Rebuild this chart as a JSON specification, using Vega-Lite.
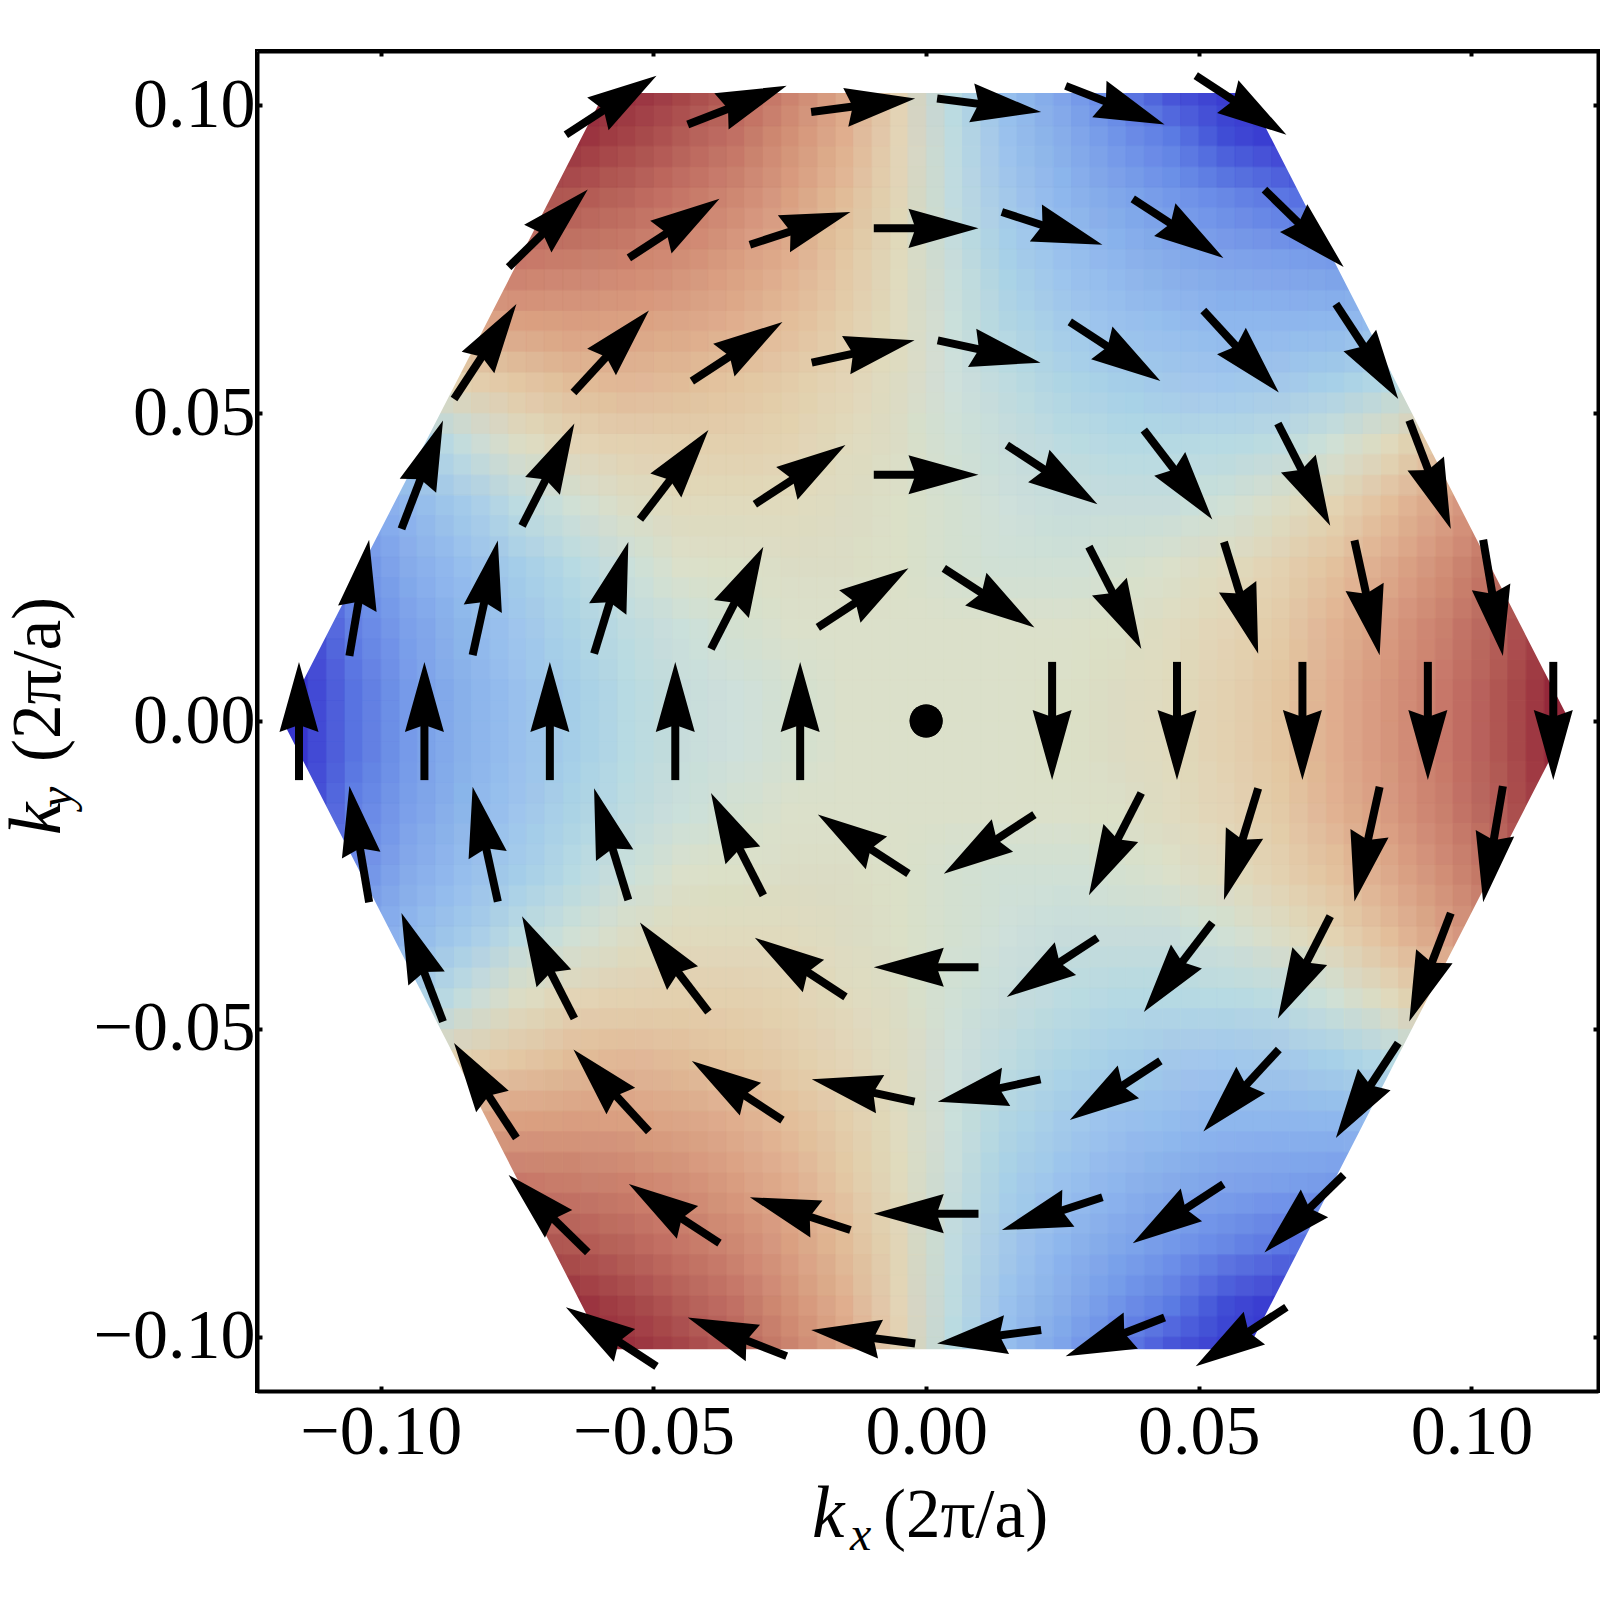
{"$schema":"https://vega.github.io/schema/vega-lite/v6.json","width":1341,"height":1340,"autosize":{"type":"none"},"padding":{"left":257,"top":51,"right":2,"bottom":209},"background":"white","view":{"stroke":"black","strokeWidth":4,"fill":"white"},
"datasets":{"cells":[
{"x":-0.065,"y":0.105,"v":100},{"x":-0.055,"y":0.105,"v":100},{"x":-0.045,"y":0.105,"v":87},{"x":-0.035,"y":0.105,"v":70},{"x":-0.025,"y":0.105,"v":51},{"x":-0.015,"y":0.105,"v":31},{"x":-0.005,"y":0.105,"v":10},{"x":0.005,"y":0.105,"v":-10},{"x":0.015,"y":0.105,"v":-31},{"x":0.025,"y":0.105,"v":-51},{"x":0.035,"y":0.105,"v":-70},{"x":0.045,"y":0.105,"v":-87},{"x":0.055,"y":0.105,"v":-100},{"x":0.065,"y":0.105,"v":-100},
{"x":-0.075,"y":0.095,"v":100},{"x":-0.065,"y":0.095,"v":93},{"x":-0.055,"y":0.095,"v":83},{"x":-0.045,"y":0.095,"v":70},{"x":-0.035,"y":0.095,"v":57},{"x":-0.025,"y":0.095,"v":41},{"x":-0.015,"y":0.095,"v":25},{"x":-0.005,"y":0.095,"v":8},{"x":0.005,"y":0.095,"v":-8},{"x":0.015,"y":0.095,"v":-25},{"x":0.025,"y":0.095,"v":-41},{"x":0.035,"y":0.095,"v":-57},{"x":0.045,"y":0.095,"v":-70},{"x":0.055,"y":0.095,"v":-83},{"x":0.065,"y":0.095,"v":-93},{"x":0.075,"y":0.095,"v":-100},
{"x":-0.075,"y":0.085,"v":75},{"x":-0.065,"y":0.085,"v":71},{"x":-0.055,"y":0.085,"v":64},{"x":-0.045,"y":0.085,"v":55},{"x":-0.035,"y":0.085,"v":45},{"x":-0.025,"y":0.085,"v":33},{"x":-0.015,"y":0.085,"v":20},{"x":-0.005,"y":0.085,"v":7},{"x":0.005,"y":0.085,"v":-7},{"x":0.015,"y":0.085,"v":-20},{"x":0.025,"y":0.085,"v":-33},{"x":0.035,"y":0.085,"v":-45},{"x":0.045,"y":0.085,"v":-55},{"x":0.055,"y":0.085,"v":-64},{"x":0.065,"y":0.085,"v":-71},{"x":0.075,"y":0.085,"v":-75},
{"x":-0.085,"y":0.075,"v":51},{"x":-0.075,"y":0.075,"v":53},{"x":-0.065,"y":0.075,"v":51},{"x":-0.055,"y":0.075,"v":48},{"x":-0.045,"y":0.075,"v":42},{"x":-0.035,"y":0.075,"v":34},{"x":-0.025,"y":0.075,"v":25},{"x":-0.015,"y":0.075,"v":16},{"x":-0.005,"y":0.075,"v":5},{"x":0.005,"y":0.075,"v":-5},{"x":0.015,"y":0.075,"v":-16},{"x":0.025,"y":0.075,"v":-25},{"x":0.035,"y":0.075,"v":-34},{"x":0.045,"y":0.075,"v":-42},{"x":0.055,"y":0.075,"v":-48},{"x":0.065,"y":0.075,"v":-51},{"x":0.075,"y":0.075,"v":-53},{"x":0.085,"y":0.075,"v":-51},
{"x":-0.085,"y":0.065,"v":29},{"x":-0.075,"y":0.065,"v":33},{"x":-0.065,"y":0.065,"v":34},{"x":-0.055,"y":0.065,"v":33},{"x":-0.045,"y":0.065,"v":30},{"x":-0.035,"y":0.065,"v":25},{"x":-0.025,"y":0.065,"v":19},{"x":-0.015,"y":0.065,"v":12},{"x":-0.005,"y":0.065,"v":4},{"x":0.005,"y":0.065,"v":-4},{"x":0.015,"y":0.065,"v":-12},{"x":0.025,"y":0.065,"v":-19},{"x":0.035,"y":0.065,"v":-25},{"x":0.045,"y":0.065,"v":-30},{"x":0.055,"y":0.065,"v":-33},{"x":0.065,"y":0.065,"v":-34},{"x":0.075,"y":0.065,"v":-33},{"x":0.085,"y":0.065,"v":-29},
{"x":-0.095,"y":0.055,"v":0},{"x":-0.085,"y":0.055,"v":10},{"x":-0.075,"y":0.055,"v":16},{"x":-0.065,"y":0.055,"v":20},{"x":-0.055,"y":0.055,"v":21},{"x":-0.045,"y":0.055,"v":20},{"x":-0.035,"y":0.055,"v":17},{"x":-0.025,"y":0.055,"v":13},{"x":-0.015,"y":0.055,"v":8},{"x":-0.005,"y":0.055,"v":3},{"x":0.005,"y":0.055,"v":-3},{"x":0.015,"y":0.055,"v":-8},{"x":0.025,"y":0.055,"v":-13},{"x":0.035,"y":0.055,"v":-17},{"x":0.045,"y":0.055,"v":-20},{"x":0.055,"y":0.055,"v":-21},{"x":0.065,"y":0.055,"v":-20},{"x":0.075,"y":0.055,"v":-16},{"x":0.085,"y":0.055,"v":-10},{"x":0.095,"y":0.055,"v":0},
{"x":-0.105,"y":0.045,"v":-33},{"x":-0.095,"y":0.045,"v":-18},{"x":-0.085,"y":0.045,"v":-6},{"x":-0.075,"y":0.045,"v":2},{"x":-0.065,"y":0.045,"v":8},{"x":-0.055,"y":0.045,"v":10},{"x":-0.045,"y":0.045,"v":11},{"x":-0.035,"y":0.045,"v":11},{"x":-0.025,"y":0.045,"v":9},{"x":-0.015,"y":0.045,"v":5},{"x":-0.005,"y":0.045,"v":2},{"x":0.005,"y":0.045,"v":-2},{"x":0.015,"y":0.045,"v":-5},{"x":0.025,"y":0.045,"v":-9},{"x":0.035,"y":0.045,"v":-11},{"x":0.045,"y":0.045,"v":-11},{"x":0.055,"y":0.045,"v":-10},{"x":0.065,"y":0.045,"v":-8},{"x":0.075,"y":0.045,"v":-2},{"x":0.085,"y":0.045,"v":6},{"x":0.095,"y":0.045,"v":18},{"x":0.105,"y":0.045,"v":33},
{"x":-0.105,"y":0.035,"v":-48},{"x":-0.095,"y":0.035,"v":-32},{"x":-0.085,"y":0.035,"v":-19},{"x":-0.075,"y":0.035,"v":-9},{"x":-0.065,"y":0.035,"v":-2},{"x":-0.055,"y":0.035,"v":2},{"x":-0.045,"y":0.035,"v":5},{"x":-0.035,"y":0.035,"v":5},{"x":-0.025,"y":0.035,"v":5},{"x":-0.015,"y":0.035,"v":3},{"x":-0.005,"y":0.035,"v":1},{"x":0.005,"y":0.035,"v":-1},{"x":0.015,"y":0.035,"v":-3},{"x":0.025,"y":0.035,"v":-5},{"x":0.035,"y":0.035,"v":-5},{"x":0.045,"y":0.035,"v":-5},{"x":0.055,"y":0.035,"v":-2},{"x":0.065,"y":0.035,"v":2},{"x":0.075,"y":0.035,"v":9},{"x":0.085,"y":0.035,"v":19},{"x":0.095,"y":0.035,"v":32},{"x":0.105,"y":0.035,"v":48},
{"x":-0.115,"y":0.025,"v":-82},{"x":-0.105,"y":0.025,"v":-60},{"x":-0.095,"y":0.025,"v":-42},{"x":-0.085,"y":0.025,"v":-28},{"x":-0.075,"y":0.025,"v":-18},{"x":-0.065,"y":0.025,"v":-10},{"x":-0.055,"y":0.025,"v":-4},{"x":-0.045,"y":0.025,"v":0},{"x":-0.035,"y":0.025,"v":1},{"x":-0.025,"y":0.025,"v":2},{"x":-0.015,"y":0.025,"v":2},{"x":-0.005,"y":0.025,"v":1},{"x":0.005,"y":0.025,"v":-1},{"x":0.015,"y":0.025,"v":-2},{"x":0.025,"y":0.025,"v":-2},{"x":0.035,"y":0.025,"v":-1},{"x":0.045,"y":0.025,"v":0},{"x":0.055,"y":0.025,"v":4},{"x":0.065,"y":0.025,"v":10},{"x":0.075,"y":0.025,"v":18},{"x":0.085,"y":0.025,"v":28},{"x":0.095,"y":0.025,"v":42},{"x":0.105,"y":0.025,"v":60},{"x":0.115,"y":0.025,"v":82},
{"x":-0.115,"y":0.015,"v":-90},{"x":-0.105,"y":0.015,"v":-68},{"x":-0.095,"y":0.015,"v":-50},{"x":-0.085,"y":0.015,"v":-35},{"x":-0.075,"y":0.015,"v":-23},{"x":-0.065,"y":0.015,"v":-14},{"x":-0.055,"y":0.015,"v":-8},{"x":-0.045,"y":0.015,"v":-4},{"x":-0.035,"y":0.015,"v":-1},{"x":-0.025,"y":0.015,"v":0},{"x":-0.015,"y":0.015,"v":0},{"x":-0.005,"y":0.015,"v":0},{"x":0.005,"y":0.015,"v":0},{"x":0.015,"y":0.015,"v":0},{"x":0.025,"y":0.015,"v":0},{"x":0.035,"y":0.015,"v":1},{"x":0.045,"y":0.015,"v":4},{"x":0.055,"y":0.015,"v":8},{"x":0.065,"y":0.015,"v":14},{"x":0.075,"y":0.015,"v":23},{"x":0.085,"y":0.015,"v":35},{"x":0.095,"y":0.015,"v":50},{"x":0.105,"y":0.015,"v":68},{"x":0.115,"y":0.015,"v":90},
{"x":-0.125,"y":0.005,"v":-100},{"x":-0.115,"y":0.005,"v":-95},{"x":-0.105,"y":0.005,"v":-72},{"x":-0.095,"y":0.005,"v":-53},{"x":-0.085,"y":0.005,"v":-38},{"x":-0.075,"y":0.005,"v":-26},{"x":-0.065,"y":0.005,"v":-17},{"x":-0.055,"y":0.005,"v":-10},{"x":-0.045,"y":0.005,"v":-5},{"x":-0.035,"y":0.005,"v":-3},{"x":-0.025,"y":0.005,"v":-1},{"x":-0.015,"y":0.005,"v":0},{"x":-0.005,"y":0.005,"v":0},{"x":0.005,"y":0.005,"v":0},{"x":0.015,"y":0.005,"v":0},{"x":0.025,"y":0.005,"v":1},{"x":0.035,"y":0.005,"v":3},{"x":0.045,"y":0.005,"v":5},{"x":0.055,"y":0.005,"v":10},{"x":0.065,"y":0.005,"v":17},{"x":0.075,"y":0.005,"v":26},{"x":0.085,"y":0.005,"v":38},{"x":0.095,"y":0.005,"v":53},{"x":0.105,"y":0.005,"v":72},{"x":0.115,"y":0.005,"v":95},{"x":0.125,"y":0.005,"v":100},
{"x":-0.125,"y":-0.005,"v":-100},{"x":-0.115,"y":-0.005,"v":-95},{"x":-0.105,"y":-0.005,"v":-72},{"x":-0.095,"y":-0.005,"v":-53},{"x":-0.085,"y":-0.005,"v":-38},{"x":-0.075,"y":-0.005,"v":-26},{"x":-0.065,"y":-0.005,"v":-17},{"x":-0.055,"y":-0.005,"v":-10},{"x":-0.045,"y":-0.005,"v":-5},{"x":-0.035,"y":-0.005,"v":-3},{"x":-0.025,"y":-0.005,"v":-1},{"x":-0.015,"y":-0.005,"v":0},{"x":-0.005,"y":-0.005,"v":0},{"x":0.005,"y":-0.005,"v":0},{"x":0.015,"y":-0.005,"v":0},{"x":0.025,"y":-0.005,"v":1},{"x":0.035,"y":-0.005,"v":3},{"x":0.045,"y":-0.005,"v":5},{"x":0.055,"y":-0.005,"v":10},{"x":0.065,"y":-0.005,"v":17},{"x":0.075,"y":-0.005,"v":26},{"x":0.085,"y":-0.005,"v":38},{"x":0.095,"y":-0.005,"v":53},{"x":0.105,"y":-0.005,"v":72},{"x":0.115,"y":-0.005,"v":95},{"x":0.125,"y":-0.005,"v":100},
{"x":-0.115,"y":-0.015,"v":-90},{"x":-0.105,"y":-0.015,"v":-68},{"x":-0.095,"y":-0.015,"v":-50},{"x":-0.085,"y":-0.015,"v":-35},{"x":-0.075,"y":-0.015,"v":-23},{"x":-0.065,"y":-0.015,"v":-14},{"x":-0.055,"y":-0.015,"v":-8},{"x":-0.045,"y":-0.015,"v":-4},{"x":-0.035,"y":-0.015,"v":-1},{"x":-0.025,"y":-0.015,"v":0},{"x":-0.015,"y":-0.015,"v":0},{"x":-0.005,"y":-0.015,"v":0},{"x":0.005,"y":-0.015,"v":0},{"x":0.015,"y":-0.015,"v":0},{"x":0.025,"y":-0.015,"v":0},{"x":0.035,"y":-0.015,"v":1},{"x":0.045,"y":-0.015,"v":4},{"x":0.055,"y":-0.015,"v":8},{"x":0.065,"y":-0.015,"v":14},{"x":0.075,"y":-0.015,"v":23},{"x":0.085,"y":-0.015,"v":35},{"x":0.095,"y":-0.015,"v":50},{"x":0.105,"y":-0.015,"v":68},{"x":0.115,"y":-0.015,"v":90},
{"x":-0.115,"y":-0.025,"v":-82},{"x":-0.105,"y":-0.025,"v":-60},{"x":-0.095,"y":-0.025,"v":-42},{"x":-0.085,"y":-0.025,"v":-28},{"x":-0.075,"y":-0.025,"v":-18},{"x":-0.065,"y":-0.025,"v":-10},{"x":-0.055,"y":-0.025,"v":-4},{"x":-0.045,"y":-0.025,"v":0},{"x":-0.035,"y":-0.025,"v":1},{"x":-0.025,"y":-0.025,"v":2},{"x":-0.015,"y":-0.025,"v":2},{"x":-0.005,"y":-0.025,"v":1},{"x":0.005,"y":-0.025,"v":-1},{"x":0.015,"y":-0.025,"v":-2},{"x":0.025,"y":-0.025,"v":-2},{"x":0.035,"y":-0.025,"v":-1},{"x":0.045,"y":-0.025,"v":0},{"x":0.055,"y":-0.025,"v":4},{"x":0.065,"y":-0.025,"v":10},{"x":0.075,"y":-0.025,"v":18},{"x":0.085,"y":-0.025,"v":28},{"x":0.095,"y":-0.025,"v":42},{"x":0.105,"y":-0.025,"v":60},{"x":0.115,"y":-0.025,"v":82},
{"x":-0.105,"y":-0.035,"v":-48},{"x":-0.095,"y":-0.035,"v":-32},{"x":-0.085,"y":-0.035,"v":-19},{"x":-0.075,"y":-0.035,"v":-9},{"x":-0.065,"y":-0.035,"v":-2},{"x":-0.055,"y":-0.035,"v":2},{"x":-0.045,"y":-0.035,"v":5},{"x":-0.035,"y":-0.035,"v":5},{"x":-0.025,"y":-0.035,"v":5},{"x":-0.015,"y":-0.035,"v":3},{"x":-0.005,"y":-0.035,"v":1},{"x":0.005,"y":-0.035,"v":-1},{"x":0.015,"y":-0.035,"v":-3},{"x":0.025,"y":-0.035,"v":-5},{"x":0.035,"y":-0.035,"v":-5},{"x":0.045,"y":-0.035,"v":-5},{"x":0.055,"y":-0.035,"v":-2},{"x":0.065,"y":-0.035,"v":2},{"x":0.075,"y":-0.035,"v":9},{"x":0.085,"y":-0.035,"v":19},{"x":0.095,"y":-0.035,"v":32},{"x":0.105,"y":-0.035,"v":48},
{"x":-0.105,"y":-0.045,"v":-33},{"x":-0.095,"y":-0.045,"v":-18},{"x":-0.085,"y":-0.045,"v":-6},{"x":-0.075,"y":-0.045,"v":2},{"x":-0.065,"y":-0.045,"v":8},{"x":-0.055,"y":-0.045,"v":10},{"x":-0.045,"y":-0.045,"v":11},{"x":-0.035,"y":-0.045,"v":11},{"x":-0.025,"y":-0.045,"v":9},{"x":-0.015,"y":-0.045,"v":5},{"x":-0.005,"y":-0.045,"v":2},{"x":0.005,"y":-0.045,"v":-2},{"x":0.015,"y":-0.045,"v":-5},{"x":0.025,"y":-0.045,"v":-9},{"x":0.035,"y":-0.045,"v":-11},{"x":0.045,"y":-0.045,"v":-11},{"x":0.055,"y":-0.045,"v":-10},{"x":0.065,"y":-0.045,"v":-8},{"x":0.075,"y":-0.045,"v":-2},{"x":0.085,"y":-0.045,"v":6},{"x":0.095,"y":-0.045,"v":18},{"x":0.105,"y":-0.045,"v":33},
{"x":-0.095,"y":-0.055,"v":0},{"x":-0.085,"y":-0.055,"v":10},{"x":-0.075,"y":-0.055,"v":16},{"x":-0.065,"y":-0.055,"v":20},{"x":-0.055,"y":-0.055,"v":21},{"x":-0.045,"y":-0.055,"v":20},{"x":-0.035,"y":-0.055,"v":17},{"x":-0.025,"y":-0.055,"v":13},{"x":-0.015,"y":-0.055,"v":8},{"x":-0.005,"y":-0.055,"v":3},{"x":0.005,"y":-0.055,"v":-3},{"x":0.015,"y":-0.055,"v":-8},{"x":0.025,"y":-0.055,"v":-13},{"x":0.035,"y":-0.055,"v":-17},{"x":0.045,"y":-0.055,"v":-20},{"x":0.055,"y":-0.055,"v":-21},{"x":0.065,"y":-0.055,"v":-20},{"x":0.075,"y":-0.055,"v":-16},{"x":0.085,"y":-0.055,"v":-10},{"x":0.095,"y":-0.055,"v":0},
{"x":-0.085,"y":-0.065,"v":29},{"x":-0.075,"y":-0.065,"v":33},{"x":-0.065,"y":-0.065,"v":34},{"x":-0.055,"y":-0.065,"v":33},{"x":-0.045,"y":-0.065,"v":30},{"x":-0.035,"y":-0.065,"v":25},{"x":-0.025,"y":-0.065,"v":19},{"x":-0.015,"y":-0.065,"v":12},{"x":-0.005,"y":-0.065,"v":4},{"x":0.005,"y":-0.065,"v":-4},{"x":0.015,"y":-0.065,"v":-12},{"x":0.025,"y":-0.065,"v":-19},{"x":0.035,"y":-0.065,"v":-25},{"x":0.045,"y":-0.065,"v":-30},{"x":0.055,"y":-0.065,"v":-33},{"x":0.065,"y":-0.065,"v":-34},{"x":0.075,"y":-0.065,"v":-33},{"x":0.085,"y":-0.065,"v":-29},
{"x":-0.085,"y":-0.075,"v":51},{"x":-0.075,"y":-0.075,"v":53},{"x":-0.065,"y":-0.075,"v":51},{"x":-0.055,"y":-0.075,"v":48},{"x":-0.045,"y":-0.075,"v":42},{"x":-0.035,"y":-0.075,"v":34},{"x":-0.025,"y":-0.075,"v":25},{"x":-0.015,"y":-0.075,"v":16},{"x":-0.005,"y":-0.075,"v":5},{"x":0.005,"y":-0.075,"v":-5},{"x":0.015,"y":-0.075,"v":-16},{"x":0.025,"y":-0.075,"v":-25},{"x":0.035,"y":-0.075,"v":-34},{"x":0.045,"y":-0.075,"v":-42},{"x":0.055,"y":-0.075,"v":-48},{"x":0.065,"y":-0.075,"v":-51},{"x":0.075,"y":-0.075,"v":-53},{"x":0.085,"y":-0.075,"v":-51},
{"x":-0.075,"y":-0.085,"v":75},{"x":-0.065,"y":-0.085,"v":71},{"x":-0.055,"y":-0.085,"v":64},{"x":-0.045,"y":-0.085,"v":55},{"x":-0.035,"y":-0.085,"v":45},{"x":-0.025,"y":-0.085,"v":33},{"x":-0.015,"y":-0.085,"v":20},{"x":-0.005,"y":-0.085,"v":7},{"x":0.005,"y":-0.085,"v":-7},{"x":0.015,"y":-0.085,"v":-20},{"x":0.025,"y":-0.085,"v":-33},{"x":0.035,"y":-0.085,"v":-45},{"x":0.045,"y":-0.085,"v":-55},{"x":0.055,"y":-0.085,"v":-64},{"x":0.065,"y":-0.085,"v":-71},{"x":0.075,"y":-0.085,"v":-75},
{"x":-0.075,"y":-0.095,"v":100},{"x":-0.065,"y":-0.095,"v":93},{"x":-0.055,"y":-0.095,"v":83},{"x":-0.045,"y":-0.095,"v":70},{"x":-0.035,"y":-0.095,"v":57},{"x":-0.025,"y":-0.095,"v":41},{"x":-0.015,"y":-0.095,"v":25},{"x":-0.005,"y":-0.095,"v":8},{"x":0.005,"y":-0.095,"v":-8},{"x":0.015,"y":-0.095,"v":-25},{"x":0.025,"y":-0.095,"v":-41},{"x":0.035,"y":-0.095,"v":-57},{"x":0.045,"y":-0.095,"v":-70},{"x":0.055,"y":-0.095,"v":-83},{"x":0.065,"y":-0.095,"v":-93},{"x":0.075,"y":-0.095,"v":-100},
{"x":-0.065,"y":-0.105,"v":100},{"x":-0.055,"y":-0.105,"v":100},{"x":-0.045,"y":-0.105,"v":87},{"x":-0.035,"y":-0.105,"v":70},{"x":-0.025,"y":-0.105,"v":51},{"x":-0.015,"y":-0.105,"v":31},{"x":-0.005,"y":-0.105,"v":10},{"x":0.005,"y":-0.105,"v":-10},{"x":0.015,"y":-0.105,"v":-31},{"x":0.025,"y":-0.105,"v":-51},{"x":0.035,"y":-0.105,"v":-70},{"x":0.045,"y":-0.105,"v":-87},{"x":0.055,"y":-0.105,"v":-100},{"x":0.065,"y":-0.105,"v":-100}
],
"outside":[
{"g":"top","x":-0.1227,"y":0,"y2":0.1088},{"g":"top","x":-0.118,"y":0,"y2":0.1088},{"g":"top","x":-0.059,"y":0.102,"y2":0.1088},{"g":"top","x":0.059,"y":0.102,"y2":0.1088},{"g":"top","x":0.118,"y":0,"y2":0.1088},{"g":"top","x":0.1232,"y":0,"y2":0.1088},
{"g":"bottom","x":-0.1227,"y":0,"y2":-0.1088},{"g":"bottom","x":-0.118,"y":0,"y2":-0.1088},{"g":"bottom","x":-0.059,"y":-0.102,"y2":-0.1088},{"g":"bottom","x":0.059,"y":-0.102,"y2":-0.1088},{"g":"bottom","x":0.118,"y":0,"y2":-0.1088},{"g":"bottom","x":0.1232,"y":0,"y2":-0.1088}
],
"arrows":[
{"x":0.0231,"y":0.0096,"x2":0.0231,"y2":-0.0096,"a":180},{"x":0.046,"y":0.0096,"x2":0.046,"y2":-0.0096,"a":180},{"x":0.069,"y":0.0096,"x2":0.069,"y2":-0.0096,"a":180},{"x":0.092,"y":0.0096,"x2":0.092,"y2":-0.0096,"a":180},{"x":0.115,"y":0.0096,"x2":0.115,"y2":-0.0096,"a":180},
{"x":-0.0231,"y":-0.0096,"x2":-0.0231,"y2":0.0096,"a":0},{"x":-0.046,"y":-0.0096,"x2":-0.046,"y2":0.0096,"a":0},{"x":-0.069,"y":-0.0096,"x2":-0.069,"y2":0.0096,"a":0},{"x":-0.092,"y":-0.0096,"x2":-0.092,"y2":0.0096,"a":0},{"x":-0.115,"y":-0.0096,"x2":-0.115,"y2":0.0096,"a":0},
{"x":-0.0096,"y":0.04,"x2":0.0096,"y2":0.04,"a":90},{"x":0.0096,"y":-0.04,"x2":-0.0096,"y2":-0.04,"a":270},{"x":-0.0096,"y":0.08,"x2":0.0096,"y2":0.08,"a":90},{"x":0.0096,"y":-0.08,"x2":-0.0096,"y2":-0.08,"a":270},
{"x":0.00324,"y":0.0248,"x2":0.01986,"y2":0.0152,"a":123.1},{"x":-0.01986,"y":0.0152,"x2":-0.00324,"y2":0.0248,"a":56.9},{"x":-0.00324,"y":-0.0248,"x2":-0.01986,"y2":-0.0152,"a":303.1},{"x":0.01986,"y":-0.0152,"x2":0.00324,"y2":-0.0248,"a":236.9},
{"x":0.02985,"y":0.02831,"x2":0.03945,"y2":0.01169,"a":152.9},{"x":-0.03945,"y":0.01169,"x2":-0.02985,"y2":0.02831,"a":27.1},{"x":-0.02985,"y":-0.02831,"x2":-0.03945,"y2":-0.01169,"a":332.9},{"x":0.03945,"y":-0.01169,"x2":0.02985,"y2":-0.02831,"a":207.1},
{"x":0.05461,"y":0.02907,"x2":0.06089,"y2":0.01093,"a":162.9},{"x":-0.06089,"y":0.01093,"x2":-0.05461,"y2":0.02907,"a":17.1},{"x":-0.05461,"y":-0.02907,"x2":-0.06089,"y2":-0.01093,"a":342.9},{"x":0.06089,"y":-0.01093,"x2":0.05461,"y2":-0.02907,"a":197.1},
{"x":0.07854,"y":0.02932,"x2":0.08316,"y2":0.01068,"a":167.6},{"x":-0.08316,"y":0.01068,"x2":-0.07854,"y2":0.02932,"a":12.4},{"x":-0.07854,"y":-0.02932,"x2":-0.08316,"y2":-0.01068,"a":347.6},{"x":0.08316,"y":-0.01068,"x2":0.07854,"y2":-0.02932,"a":192.4},
{"x":0.10214,"y":0.02943,"x2":0.10576,"y2":0.01057,"a":170.3},{"x":-0.10576,"y":0.01057,"x2":-0.10214,"y2":0.02943,"a":9.7},{"x":-0.10214,"y":-0.02943,"x2":-0.10576,"y2":-0.01057,"a":350.3},{"x":0.10576,"y":-0.01057,"x2":0.10214,"y2":-0.02943,"a":189.7},
{"x":0.01479,"y":0.0448,"x2":0.03141,"y2":0.0352,"a":123.1},{"x":-0.03141,"y":0.0352,"x2":-0.01479,"y2":0.0448,"a":56.9},{"x":-0.01479,"y":-0.0448,"x2":-0.03141,"y2":-0.0352,"a":303.1},{"x":0.03141,"y":-0.0352,"x2":0.01479,"y2":-0.0448,"a":236.9},
{"x":0.03992,"y":0.04726,"x2":0.05248,"y2":0.03274,"a":142.5},{"x":-0.05248,"y":0.03274,"x2":-0.03992,"y2":0.04726,"a":37.5},{"x":-0.03992,"y":-0.04726,"x2":-0.05248,"y2":-0.03274,"a":322.5},{"x":0.05248,"y":-0.03274,"x2":0.03992,"y2":-0.04726,"a":217.5},
{"x":0.0645,"y":0.04831,"x2":0.0741,"y2":0.03169,"a":152.9},{"x":-0.0741,"y":0.03169,"x2":-0.0645,"y2":0.04831,"a":27.1},{"x":-0.0645,"y":-0.04831,"x2":-0.0741,"y2":-0.03169,"a":332.9},{"x":0.0741,"y":-0.03169,"x2":0.0645,"y2":-0.04831,"a":207.1},
{"x":0.08859,"y":0.04881,"x2":0.09621,"y2":0.03119,"a":159},{"x":-0.09621,"y":0.03119,"x2":-0.08859,"y2":0.04881,"a":21},{"x":-0.08859,"y":-0.04881,"x2":-0.09621,"y2":-0.03119,"a":339},{"x":0.09621,"y":-0.03119,"x2":0.08859,"y2":-0.04881,"a":201},
{"x":0.00212,"y":0.06181,"x2":0.02098,"y2":0.05819,"a":102.2},{"x":-0.02098,"y":0.05819,"x2":-0.00212,"y2":0.06181,"a":77.8},{"x":-0.00212,"y":-0.06181,"x2":-0.02098,"y2":-0.05819,"a":282.2},{"x":0.02098,"y":-0.05819,"x2":0.00212,"y2":-0.06181,"a":257.8},
{"x":0.02634,"y":0.0648,"x2":0.04296,"y2":0.0552,"a":123.1},{"x":-0.04296,"y":0.0552,"x2":-0.02634,"y2":0.0648,"a":56.9},{"x":-0.02634,"y":-0.0648,"x2":-0.04296,"y2":-0.0552,"a":303.1},{"x":0.04296,"y":-0.0552,"x2":0.02634,"y2":-0.0648,"a":236.9},
{"x":0.05083,"y":0.06666,"x2":0.06467,"y2":0.05334,"a":137.4},{"x":-0.06467,"y":0.05334,"x2":-0.05083,"y2":0.06666,"a":42.6},{"x":-0.05083,"y":-0.06666,"x2":-0.06467,"y2":-0.05334,"a":317.4},{"x":0.06467,"y":-0.05334,"x2":0.05083,"y2":-0.06666,"a":222.6},
{"x":0.07513,"y":0.06771,"x2":0.08657,"y2":0.05229,"a":146.7},{"x":-0.08657,"y":0.05229,"x2":-0.07513,"y2":0.06771,"a":33.3},{"x":-0.07513,"y":-0.06771,"x2":-0.08657,"y2":-0.05229,"a":326.7},{"x":0.08657,"y":-0.05229,"x2":0.07513,"y2":-0.06771,"a":213.3},
{"x":0.01388,"y":0.08266,"x2":0.03232,"y2":0.07734,"a":108.1},{"x":-0.03232,"y":0.07734,"x2":-0.01388,"y2":0.08266,"a":71.9},{"x":-0.01388,"y":-0.08266,"x2":-0.03232,"y2":-0.07734,"a":288.1},{"x":0.03232,"y":-0.07734,"x2":0.01388,"y2":-0.08266,"a":251.9},
{"x":0.03789,"y":0.0848,"x2":0.05451,"y2":0.0752,"a":123.1},{"x":-0.05451,"y":0.0752,"x2":-0.03789,"y2":0.0848,"a":56.9},{"x":-0.03789,"y":-0.0848,"x2":-0.05451,"y2":-0.0752,"a":303.1},{"x":0.05451,"y":-0.0752,"x2":0.03789,"y2":-0.0848,"a":236.9},
{"x":0.06204,"y":0.08629,"x2":0.07656,"y2":0.07371,"a":134.4},{"x":-0.07656,"y":0.07371,"x2":-0.06204,"y2":0.08629,"a":45.6},{"x":-0.06204,"y":-0.08629,"x2":-0.07656,"y2":-0.07371,"a":314.4},{"x":0.07656,"y":-0.07371,"x2":0.06204,"y2":-0.08629,"a":225.6},
{"x":0.00201,"y":0.1011,"x2":0.02109,"y2":0.0989,"a":97.4},{"x":-0.02109,"y":0.0989,"x2":-0.00201,"y2":0.1011,"a":82.6},{"x":-0.00201,"y":-0.1011,"x2":-0.02109,"y2":-0.0989,"a":277.4},{"x":0.02109,"y":-0.0989,"x2":0.00201,"y2":-0.1011,"a":262.6},
{"x":0.02558,"y":0.10314,"x2":0.04372,"y2":0.09686,"a":111.4},{"x":-0.04372,"y":0.09686,"x2":-0.02558,"y2":0.10314,"a":68.6},{"x":-0.02558,"y":-0.10314,"x2":-0.04372,"y2":-0.09686,"a":291.4},{"x":0.04372,"y":-0.09686,"x2":0.02558,"y2":-0.10314,"a":248.6},
{"x":0.04944,"y":0.1048,"x2":0.06606,"y2":0.0952,"a":123.1},{"x":-0.06606,"y":0.0952,"x2":-0.04944,"y2":0.1048,"a":56.9},{"x":-0.04944,"y":-0.1048,"x2":-0.06606,"y2":-0.0952,"a":303.1},{"x":0.06606,"y":-0.0952,"x2":0.04944,"y2":-0.1048,"a":236.9}
]},
"encoding":{"x":{"field":"x","type":"quantitative","scale":{"domain":[-0.1227,0.1232]},"axis":null},"y":{"field":"y","type":"quantitative","scale":{"domain":[-0.1088,0.1088]},"axis":null}},
"layer":[
{"data":{"name":"cells"},"mark":{"type":"rect","width":55.5,"height":62.5,"xOffset":-18.2,"yOffset":-20.5,"clip":true},"encoding":{"color":{"field":"v","type":"quantitative","legend":null,"scale":{"clamp":true,"domain":[-92,-82,-68,-49,-21,-8.5,-3,0,7.6,17,23,31,52,80,95],"range":["#3a38d0","#4450d8","#6483e6","#7fa4ec","#a3c8ee","#bedde3","#d0e0dc","#dde2cc","#e4d7b8","#e4c6a2","#e3b494","#dda587","#c97c6c","#a84a4c","#962a3c"]}}}},
{"data":{"name":"cells"},"mark":{"type":"rect","width":55.5,"height":62.5,"xOffset":0,"yOffset":-20.5,"opacity":0.5,"clip":true},"encoding":{"color":{"field":"v","type":"quantitative","legend":null}}},
{"data":{"name":"cells"},"mark":{"type":"rect","width":55.5,"height":62.5,"xOffset":18.2,"yOffset":-20.5,"opacity":0.3333,"clip":true},"encoding":{"color":{"field":"v","type":"quantitative","legend":null}}},
{"data":{"name":"cells"},"mark":{"type":"rect","width":55.5,"height":62.5,"xOffset":-18.2,"yOffset":0,"opacity":0.25,"clip":true},"encoding":{"color":{"field":"v","type":"quantitative","legend":null}}},
{"data":{"name":"cells"},"mark":{"type":"rect","width":55.5,"height":62.5,"xOffset":0,"yOffset":0,"opacity":0.2,"clip":true},"encoding":{"color":{"field":"v","type":"quantitative","legend":null}}},
{"data":{"name":"cells"},"mark":{"type":"rect","width":55.5,"height":62.5,"xOffset":18.2,"yOffset":0,"opacity":0.1667,"clip":true},"encoding":{"color":{"field":"v","type":"quantitative","legend":null}}},
{"data":{"name":"cells"},"mark":{"type":"rect","width":55.5,"height":62.5,"xOffset":-18.2,"yOffset":20.5,"opacity":0.1429,"clip":true},"encoding":{"color":{"field":"v","type":"quantitative","legend":null}}},
{"data":{"name":"cells"},"mark":{"type":"rect","width":55.5,"height":62.5,"xOffset":0,"yOffset":20.5,"opacity":0.125,"clip":true},"encoding":{"color":{"field":"v","type":"quantitative","legend":null}}},
{"data":{"name":"cells"},"mark":{"type":"rect","width":55.5,"height":62.5,"xOffset":18.2,"yOffset":20.5,"opacity":0.1111,"clip":true},"encoding":{"color":{"field":"v","type":"quantitative","legend":null}}},
{"data":{"name":"outside"},"mark":{"type":"area","color":"white","opacity":1},"encoding":{"y2":{"field":"y2"},"detail":{"field":"g"}}},
{"data":{"name":"arrows"},"mark":{"type":"rule","color":"black","strokeWidth":8,"strokeCap":"butt","strokeDash":[58,400]},"encoding":{"x2":{"field":"x2"},"y2":{"field":"y2"}}},
{"data":{"name":"arrows"},"mark":{"type":"point","filled":true,"color":"black","opacity":1,"strokeWidth":0,"size":19600,"shape":"M0,0 L0.279,1 L0,0.9 L-0.279,1 Z"},"encoding":{"x":{"field":"x2","type":"quantitative","scale":{"domain":[-0.1227,0.1232]},"axis":null},"y":{"field":"y2","type":"quantitative","scale":{"domain":[-0.1088,0.1088]},"axis":null},"angle":{"field":"a","type":"quantitative","scale":null}}},
{"data":{"values":[{"x":0,"y":0}]},"mark":{"type":"point","shape":"circle","filled":true,"color":"black","opacity":1,"size":1089},
"encoding":{"x":{"field":"x","type":"quantitative","scale":{"domain":[-0.1227,0.1232]},"axis":{"orient":"bottom","title":null,"values":[-0.1,-0.05,0,0.05,0.1],"format":".2f","grid":false,"labelFont":"Liberation Serif","labelFontSize":70,"labelColor":"black","labelPadding":12,"labelOverlap":false,"labelFlush":false,"tickSize":-5,"tickWidth":4,"tickColor":"black","domainWidth":4,"domainColor":"black","zindex":1}},
"y":{"field":"y","type":"quantitative","scale":{"domain":[-0.1088,0.1088]},"axis":{"orient":"left","title":null,"values":[-0.1,-0.05,0,0.05,0.1],"format":".2f","grid":false,"labelFont":"Liberation Serif","labelFontSize":70,"labelColor":"black","labelPadding":7,"labelOverlap":false,"labelFlush":false,"tickSize":-5,"tickWidth":4,"tickColor":"black","domainWidth":4,"domainColor":"black","zindex":1}}}},
{"data":{"values":[{"x":0,"y":0}]},"mark":{"type":"point","shape":"circle","filled":true,"color":"black","opacity":1,"size":1089},
"encoding":{"x":{"field":"x","type":"quantitative","scale":{"domain":[-0.1227,0.1232]},"axis":{"orient":"top","title":null,"values":[-0.1,-0.05,0,0.05,0.1],"labels":false,"grid":false,"tickSize":-5,"tickWidth":4,"tickColor":"black","domainWidth":4,"domainColor":"black","zindex":1}},
"y":{"field":"y","type":"quantitative","scale":{"domain":[-0.1088,0.1088]},"axis":{"orient":"right","title":null,"values":[-0.1,-0.05,0,0.05,0.1],"labels":false,"grid":false,"tickSize":-5,"tickWidth":4,"tickColor":"black","domainWidth":4,"domainColor":"black","zindex":1}}}},
{"data":{"values":[{"x":-0.02092,"y":-0.13251,"t":"k"}]},"mark":{"type":"text","font":"Liberation Serif","fontStyle":"italic","fontSize":73,"align":"left","baseline":"alphabetic","color":"black"},"encoding":{"text":{"field":"t"}}},
{"data":{"values":[{"x":-0.01395,"y":-0.13462,"t":"x"}]},"mark":{"type":"text","font":"Liberation Serif","fontStyle":"italic","fontSize":48,"align":"left","baseline":"alphabetic","color":"black"},"encoding":{"text":{"field":"t"}}},
{"data":{"values":[{"x":-0.0079,"y":-0.13251,"t":"(2π/a)"}]},"mark":{"type":"text","font":"Liberation Serif","fontSize":69,"align":"left","baseline":"alphabetic","color":"black"},"encoding":{"text":{"field":"t"}}},
{"data":{"values":[{"x":-0.15883,"y":-0.01851,"t":"k"}]},"mark":{"type":"text","font":"Liberation Serif","fontStyle":"italic","fontSize":73,"align":"left","baseline":"alphabetic","angle":270,"color":"black"},"encoding":{"text":{"field":"t"}}},
{"data":{"values":[{"x":-0.15663,"y":-0.01413,"t":"y"}]},"mark":{"type":"text","font":"Liberation Serif","fontStyle":"italic","fontSize":48,"align":"left","baseline":"alphabetic","angle":270,"color":"black"},"encoding":{"text":{"field":"t"}}},
{"data":{"values":[{"x":-0.15883,"y":-0.00666,"t":"(2π/a)"}]},"mark":{"type":"text","font":"Liberation Serif","fontSize":69,"align":"left","baseline":"alphabetic","angle":270,"color":"black"},"encoding":{"text":{"field":"t"}}}
],
"resolve":{"axis":{"x":"independent","y":"independent"}}}
